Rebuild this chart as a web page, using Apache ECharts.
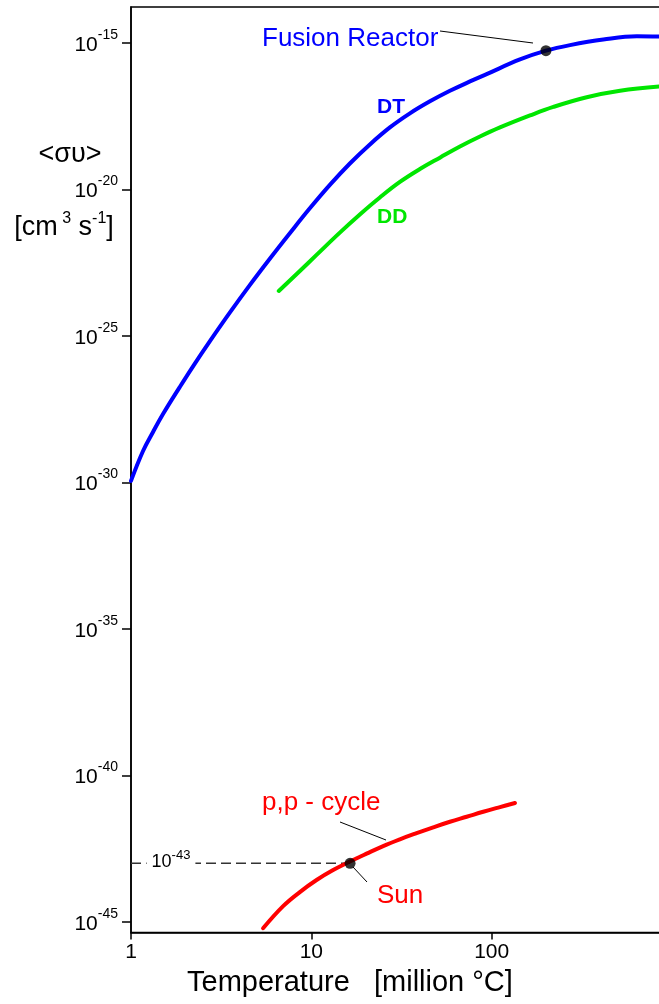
<!DOCTYPE html>
<html>
<head>
<meta charset="utf-8">
<script src="https://cdn.jsdelivr.net/npm/echarts@6/dist/echarts.min.js"></script>
<style>
html,body{margin:0;padding:0;background:#fff;}
#c{width:659px;height:1004px;}
</style>
</head>
<body>
<div id="c"></div>
<script>
// ---- data (temperature in million °C, rate as log10 exponent of <σv> in cm^3 s^-1) ----
const yTickExps = [-45, -40, -35, -30, -25, -20, -15];

const dtTemp = [1, 1.166, 1.325, 1.505, 1.863, 2.208, 2.734, 3.53, 4.557, 5.885, 7.598, 9.81, 12.67, 16.36, 21.12, 27.27, 35.21, 45.47, 58.70, 75.8, 93.8, 143.5, 200, 272, 416, 638, 870];
const dtExp  = [-29.95, -28.93, -28.28, -27.67, -26.75, -26.04, -25.19, -24.21, -23.27, -22.37, -21.50, -20.65, -19.85, -19.12, -18.47, -17.89, -17.41, -17.00, -16.64, -16.32, -16.07, -15.57, -15.27, -15.08, -14.89, -14.78, -14.79];

const ddTemp = [6.60, 8.636, 10.69, 14.39, 18.58, 23.99, 30.98, 40.0, 51.66, 66.7, 86.1, 111.2, 163.2, 219.8, 336.6, 515.2, 870];
const ddExp  = [-23.47, -22.79, -22.24, -21.48, -20.86, -20.28, -19.75, -19.31, -18.92, -18.54, -18.20, -17.89, -17.48, -17.19, -16.86, -16.64, -16.49];

const ppTemp = [5.40, 6.975, 8.636, 10.69, 13.21, 16.36, 20.24, 25.03, 30.98, 38.35, 47.43, 58.70, 72.66, 89.83, 111.2, 134.7];
const ppExp  = [-45.215, -44.46, -43.98, -43.57, -43.23, -42.94, -42.67, -42.41, -42.18, -41.97, -41.77, -41.58, -41.41, -41.24, -41.08, -40.94];

const reactorPoint = [200, -15.27];
const sunPoint = [16.4, -43];

// ---- chart ----
const FONT = '"Liberation Sans", Arial, Helvetica, sans-serif';
const zip = (xs, ys) => xs.map((x, i) => [x, ys[i]]);

const chart = echarts.init(document.getElementById('c'), null, {renderer: 'canvas'});

const curve = (name, xs, ys, color) => ({
  type: 'line', name: name, data: zip(xs, ys), smooth: 0.4,
  showSymbol: false, symbol: 'none',
  lineStyle: {color: color, width: 4, cap: 'round', join: 'round'}, z: 3
});

const option = {
  animation: false,
  backgroundColor: '#fff',
  grid: {
    left: 131, right: -13, top: 7, bottom: 71.5,
    show: true, borderColor: '#000', borderWidth: 1.5,
    containLabel: false, outerBoundsMode: 'none'
  },
  xAxis: {
    type: 'log', logBase: 10, min: 1, max: 1000,
    axisLine: {show: true, onZero: false, lineStyle: {color: '#000', width: 1.5}},
    axisTick: {show: true, length: 7, lineStyle: {color: '#000', width: 1.5}},
    minorTick: {show: false},
    splitLine: {show: false},
    axisLabel: {color: '#000', fontSize: 21, fontFamily: FONT, margin: 9, showMaxLabel: false}
  },
  yAxis: {
    type: 'value', min: -45.36, max: -13.78,
    axisLine: {show: true, onZero: false, lineStyle: {color: '#000', width: 1.5}},
    axisTick: {show: true, customValues: yTickExps, length: 9, lineStyle: {color: '#000', width: 1.5}},
    splitLine: {show: false},
    axisLabel: {
      customValues: yTickExps,
      margin: 13,
      padding: [4, 0, 0, 0],
      formatter: v => '{b|10}{s|' + v + '}',
      rich: {
        b: {fontSize: 21, fontFamily: FONT, color: '#000', verticalAlign: 'middle'},
        s: {fontSize: 14, fontFamily: FONT, color: '#000', verticalAlign: 'top', padding: [0, 0, 20, 0]}
      }
    }
  },
  series: [
    curve('DT', dtTemp, dtExp, '#0000ff'),
    curve('DD', ddTemp, ddExp, '#00e600'),
    curve('p,p - cycle', ppTemp, ppExp, '#ff0000'),
    {
      type: 'line', name: 'sun level', data: [[1, sunPoint[1]], sunPoint], showSymbol: false, symbol: 'none',
      lineStyle: {color: '#333', width: 1.5, type: [10, 5]}, z: 2
    },
    {
      type: 'scatter', name: 'points', data: [reactorPoint, sunPoint], symbolSize: 11,
      itemStyle: {color: '#000'}, z: 5
    }
  ],
  graphic: [
    {type: 'text', z: 100, style: {text: 'Fusion Reactor', x: 262, y: 39, fill: '#0000ff', fontSize: 26, fontFamily: FONT, textAlign: 'left', textVerticalAlign: 'middle'}},
    {type: 'line', z: 100, shape: {x1: 440, y1: 31, x2: 533, y2: 43}, style: {stroke: '#000', lineWidth: 1}},
    {type: 'text', z: 100, style: {text: 'DT', x: 377, y: 107, fill: '#0000ff', fontSize: 21, fontWeight: 'bold', fontFamily: FONT, textAlign: 'left', textVerticalAlign: 'middle'}},
    {type: 'text', z: 100, style: {text: 'DD', x: 377, y: 217, fill: '#00e600', fontSize: 21, fontWeight: 'bold', fontFamily: FONT, textAlign: 'left', textVerticalAlign: 'middle'}},
    {type: 'text', z: 100, style: {text: 'p,p - cycle', x: 262, y: 803, fill: '#ff0000', fontSize: 26, fontFamily: FONT, textAlign: 'left', textVerticalAlign: 'middle'}},
    {type: 'line', z: 100, shape: {x1: 340, y1: 822, x2: 386, y2: 840}, style: {stroke: '#000', lineWidth: 1}},
    {type: 'text', z: 100, style: {text: 'Sun', x: 377, y: 896, fill: '#ff0000', fontSize: 26, fontFamily: FONT, textAlign: 'left', textVerticalAlign: 'middle'}},
    {type: 'line', z: 100, shape: {x1: 353, y1: 867, x2: 367, y2: 882}, style: {stroke: '#000', lineWidth: 1}},
    {type: 'text', z: 100, style: {
      text: '{b|10}{s|-43}', x: 171, y: 862, textAlign: 'center', textVerticalAlign: 'middle',
      backgroundColor: '#fff', padding: [2, 5],
      rich: {
        b: {fontSize: 18, fontFamily: FONT, fill: '#000', verticalAlign: 'middle'},
        s: {fontSize: 13, fontFamily: FONT, fill: '#000', verticalAlign: 'top', padding: [0, 0, 14, 0]}
      }
    }},
    {type: 'text', z: 100, style: {text: '<συ>', x: 70, y: 155, fill: '#000', fontSize: 27, fontFamily: FONT, textAlign: 'center', textVerticalAlign: 'middle'}},
    {type: 'text', z: 100, style: {
      text: '{b|[cm}{s| 3}{b| s}{s|-1}{b|]}', x: 64, y: 228, textAlign: 'center', textVerticalAlign: 'middle',
      rich: {
        b: {fontSize: 27, fontFamily: FONT, fill: '#000', verticalAlign: 'middle'},
        s: {fontSize: 16, fontFamily: FONT, fill: '#000', verticalAlign: 'top', padding: [0, 0, 18, 0]}
      }
    }},
    {type: 'text', z: 100, style: {text: 'Temperature   [million °C]', x: 187, y: 983, fill: '#000', fontSize: 29, fontFamily: FONT, textAlign: 'left', textVerticalAlign: 'middle'}}
  ]
};

chart.setOption(option);
</script>
</body>
</html>
